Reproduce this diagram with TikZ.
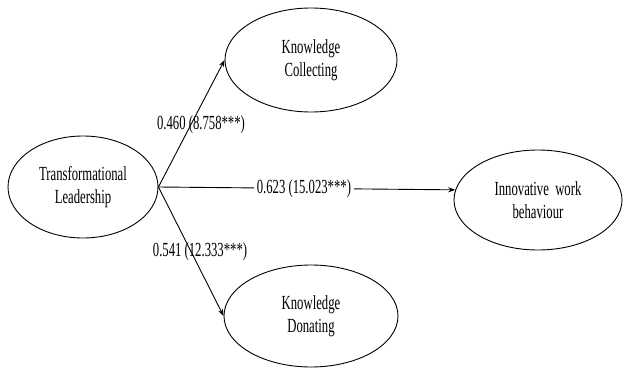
\documentclass[tikz,border=0pt]{standalone}
\usepackage{fontspec}
\setmainfont{Liberation Serif}[FakeStretch=0.635]
\usetikzlibrary{shapes.geometric,arrows.meta}
\tikzset{
  construct/.style={draw, line width=0.9pt, ellipse, inner sep=0pt, align=center,
    font=\fontsize{20}{23}\selectfont},
  path/.style={draw, line width=0.9pt, -{Stealth[length=7pt,width=5pt]}},
  coef/.style={font=\fontsize{20}{23}\selectfont, inner sep=1pt}
}
\begin{document}
\begin{tikzpicture}[x=1pt,y=-1pt]
\useasboundingbox[fill=white] (0,0) rectangle (624,372);
\node[construct, minimum width=150pt, minimum height=102pt] (TL) at (83,187) {Transformational\\Leadership};
\node[construct, minimum width=172pt, minimum height=104pt] (KC) at (311,60) {Knowledge\\Collecting};
\node[construct, minimum width=174pt, minimum height=102pt] (KD) at (311,316) {Knowledge\\Donating};
\node[construct, minimum width=168pt, minimum height=100pt] (IWB) at (538,200) {Innovative\ \ work\\behaviour};
\draw[path] (TL.east) -- (KC.west);
\draw[path] (TL.east) -- (KD.west);
\draw[path] (TL.east) -- node[coef, fill=white, inner sep=3pt, pos=0.49] (c2) {0.623 (15.023***)} (IWB.173);
\node[coef] (c1) at (201,125) {0.460 (8.758***)};
\node[coef] (c3) at (200,252) {0.541 (12.333***)};
\end{tikzpicture}
\end{document}
